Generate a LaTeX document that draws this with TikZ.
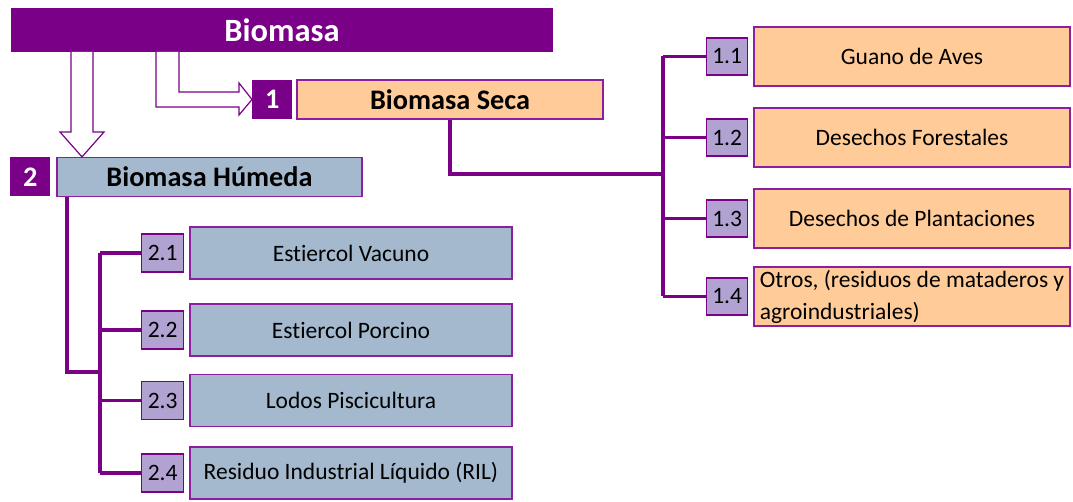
\documentclass[tikz,border=0pt]{standalone}
\usepackage{fontspec}
\setmainfont{Carlito}[Ligatures=NoCommon]
\usetikzlibrary{positioning}
\definecolor{morado}{RGB}{122,0,136}
\definecolor{borde}{RGB}{140,30,160}
\definecolor{durazno}{RGB}{255,204,153}
\definecolor{acero}{RGB}{164,185,206}
\definecolor{lila}{RGB}{178,162,210}

\begin{document}
\begin{tikzpicture}[x=1pt,y=-1pt,
    titlebox/.style = {fill=morado, text=white, inner sep=0pt, font=\fontsize{32.5}{36}\selectfont\bfseries},
    headbox/.style = {draw=borde, line width=1.2pt, inner sep=0pt, minimum height=39pt, font=\fontsize{28.3}{32}\selectfont\bfseries},
    tagbox/.style = {fill=morado, text=white, inner sep=0pt, minimum width=40pt, minimum height=39pt, font=\fontsize{28.3}{32}\selectfont\bfseries},
    itembox/.style = {draw=borde, line width=1.2pt, inner sep=0pt, font=\fontsize{23.5}{28}\selectfont},
    numbox/.style = {draw=morado, line width=1.5pt, fill=lila, inner sep=0pt, minimum width=41pt, minimum height=37pt, font=\fontsize{23.5}{28}\selectfont},
    conn/.style = {draw=morado, line width=3.5pt},
    hollow/.style = {draw=morado, line width=1.2pt, fill=white}]
  \useasboundingbox (0,0) rectangle (1073,502);

  % niveles principales
  \node[titlebox, minimum width=542pt, minimum height=44pt] (bio) at (282,30) {Biomasa};
  \node[headbox, fill=durazno, minimum width=306pt] (seca) at (450,99.5) {Biomasa Seca};
  \node[tagbox] (t1) [left=4pt of seca] {1};
  \node[headbox, fill=acero, minimum width=305pt] (hum) at (209.5,177) {Biomasa Húmeda};
  \node[tagbox] (t2) [left=6pt of hum] {2};

  % flechas huecas
  \draw[hollow] (71,52) -- (71,132) -- (60,132) -- (hum.north -| 82,0) -- (104,132) -- (93,132) -- (93,52);
  \draw[hollow] (156,52) -- (156,107) -- (239,107) -- (239,115) -- (t1.west) -- (239,83) -- (239,92) -- (179,92) -- (179,52);

  % biomasa seca
  \node[itembox, fill=durazno, minimum width=316pt, minimum height=59pt] (s11) at (912,56.5) {Guano de Aves};
  \node[itembox, fill=durazno, minimum width=316pt, minimum height=59pt] (s12) at (912,137.5) {Desechos Forestales};
  \node[itembox, fill=durazno, minimum width=316pt, minimum height=59pt] (s13) at (912,218.5) {Desechos de Plantaciones};
  \node[itembox, fill=durazno, minimum width=316pt, minimum height=59pt, inner ysep=1pt, align=left, font=\fontsize{23.5}{32}\selectfont] (s14) at (912,296.5) {Otros, (residuos de mataderos y\\agroindustriales)};
  \node[numbox] (n11) [left=5pt of s11] {1.1};
  \node[numbox] (n12) [left=5pt of s12] {1.2};
  \node[numbox] (n13) [left=5pt of s13] {1.3};
  \node[numbox] (n14) [left=5pt of s14] {1.4};

  \coordinate (sp1) at (663,174);
  \draw[conn] (seca.south) |- (sp1);
  \draw[conn] (sp1 |- n11.west) -- (sp1 |- n14.west);
  \draw[conn] (sp1 |- n11.west) -- (n11.west);
  \draw[conn] (sp1 |- n12.west) -- (n12.west);
  \draw[conn] (sp1 |- n13.west) -- (n13.west);
  \draw[conn] (sp1 |- n14.west) -- (n14.west);

  % biomasa humeda
  \node[itembox, fill=acero, minimum width=322pt, minimum height=52pt] (h21) at (351,253) {Estiercol Vacuno};
  \node[itembox, fill=acero, minimum width=322pt, minimum height=52pt] (h22) at (351,330) {Estiercol Porcino};
  \node[itembox, fill=acero, minimum width=322pt, minimum height=52pt] (h23) at (351,400.5) {Lodos Piscicultura};
  \node[itembox, fill=acero, minimum width=322pt, minimum height=52pt] (h24) at (351,473) {Residuo Industrial Líquido (RIL)};
  \node[numbox, minimum width=42pt, minimum height=38pt] (n21) [left=5pt of h21] {2.1};
  \node[numbox, minimum width=42pt, minimum height=38pt] (n22) [left=5pt of h22] {2.2};
  \node[numbox, minimum width=42pt, minimum height=38pt] (n23) [left=5pt of h23] {2.3};
  \node[numbox, minimum width=42pt, minimum height=38pt] (n24) [left=5pt of h24] {2.4};

  \coordinate (sp2) at (100,372);
  \draw[conn] (hum.south -| 67,0) |- (sp2);
  \draw[conn] (sp2 |- n21.west) -- (sp2 |- n24.west);
  \draw[conn] (sp2 |- n21.west) -- (n21.west);
  \draw[conn] (sp2 |- n22.west) -- (n22.west);
  \draw[conn] (sp2 |- n23.west) -- (n23.west);
  \draw[conn] (sp2 |- n24.west) -- (n24.west);
\end{tikzpicture}
\end{document}
